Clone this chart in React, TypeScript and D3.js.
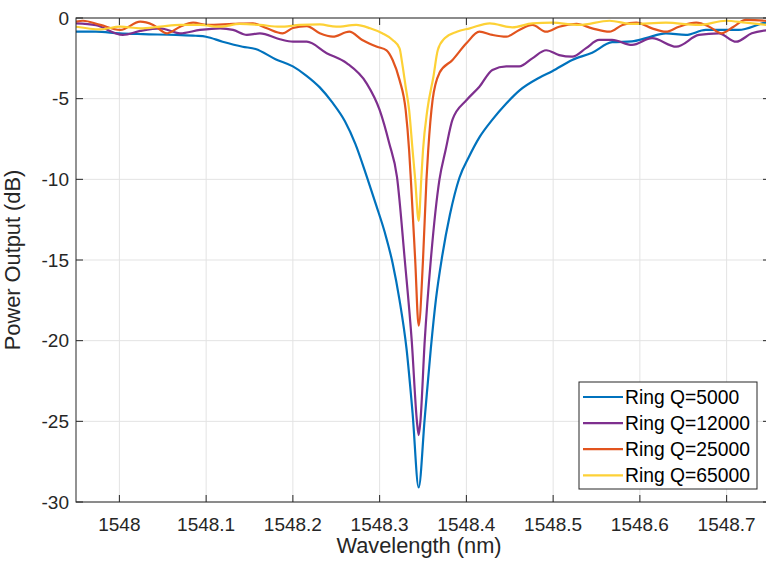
import React from "react";
import * as d3 from "d3";

// [wavelength nm, power dB]
const q5000: [number, number][] = [
  [1547.95, -0.85], [1547.973, -0.85], [1548.0, -0.95], [1548.027, -1.0], [1548.065, -1.05],
  [1548.088, -1.1], [1548.1, -1.16], [1548.119, -1.47], [1548.142, -1.78], [1548.157, -1.92],
  [1548.18, -2.55], [1548.2, -3.0], [1548.215, -3.55], [1548.231, -4.3], [1548.245, -5.2],
  [1548.26, -6.4], [1548.272, -7.8], [1548.285, -9.8], [1548.296, -11.6], [1548.306, -13.3],
  [1548.315, -15.2], [1548.323, -17.5], [1548.331, -20.5], [1548.338, -24.5], [1548.345, -29.1],
  [1548.352, -24.8], [1548.359, -20.5], [1548.365, -17.4], [1548.372, -14.8], [1548.381, -12.2],
  [1548.392, -9.9], [1548.403, -8.6], [1548.415, -7.4], [1548.43, -6.3], [1548.446, -5.3],
  [1548.461, -4.5], [1548.484, -3.7], [1548.499, -3.3], [1548.522, -2.6], [1548.545, -2.15],
  [1548.568, -1.5], [1548.591, -1.45], [1548.607, -1.25], [1548.63, -0.95], [1548.653, -1.05],
  [1548.676, -0.74], [1548.714, -0.74], [1548.744, -0.3], [1548.75, -0.25],
];

const q12000: [number, number][] = [
  [1547.95, -0.33], [1547.973, -0.45], [1548.004, -1.05], [1548.024, -0.8], [1548.047, -0.64],
  [1548.07, -0.95], [1548.093, -0.74], [1548.116, -0.64], [1548.131, -0.74], [1548.147, -1.05],
  [1548.162, -0.95], [1548.185, -1.32], [1548.2, -1.47], [1548.216, -1.47], [1548.239, -2.18],
  [1548.262, -2.8], [1548.285, -4.05], [1548.3, -5.7], [1548.311, -7.75], [1548.32, -9.85],
  [1548.329, -15], [1548.337, -20], [1548.343, -25], [1548.345, -25.85], [1548.347, -25],
  [1548.352, -20], [1548.359, -15], [1548.369, -10], [1548.376, -8.2], [1548.384, -6.3],
  [1548.4, -5.1], [1548.415, -4.26], [1548.43, -3.22], [1548.446, -3.0], [1548.461, -3.0],
  [1548.476, -2.5], [1548.492, -2.0], [1548.507, -2.3], [1548.522, -2.4], [1548.538, -1.87],
  [1548.553, -1.36], [1548.568, -1.36], [1548.591, -1.67], [1548.614, -1.25], [1548.642, -1.78],
  [1548.668, -1.05], [1548.691, -0.95], [1548.711, -1.47], [1548.729, -0.95], [1548.75, -0.74],
];

const q25000: [number, number][] = [
  [1547.95, -0.23], [1547.958, -0.17], [1547.978, -0.43], [1548.001, -0.74], [1548.024, -0.23],
  [1548.039, -0.43], [1548.055, -0.95], [1548.07, -0.54], [1548.085, -0.29], [1548.101, -0.43],
  [1548.131, -0.37], [1548.154, -0.33], [1548.17, -0.64], [1548.188, -0.95], [1548.2, -0.62],
  [1548.216, -0.5], [1548.231, -0.95], [1548.246, -1.16], [1548.265, -0.85], [1548.28, -1.36],
  [1548.297, -1.78], [1548.308, -2.0], [1548.315, -2.6], [1548.323, -3.85], [1548.33, -5.7],
  [1548.334, -8.2], [1548.336, -10], [1548.341, -15], [1548.345, -19.07], [1548.35, -15],
  [1548.354, -10], [1548.356, -8.2], [1548.361, -5.1], [1548.369, -3.4], [1548.384, -2.6],
  [1548.4, -1.57], [1548.415, -0.85], [1548.43, -1.05], [1548.446, -1.16], [1548.461, -0.74],
  [1548.476, -0.43], [1548.492, -0.85], [1548.507, -0.54], [1548.527, -0.37], [1548.545, -0.64],
  [1548.565, -0.85], [1548.58, -0.43], [1548.596, -0.29], [1548.614, -0.64], [1548.63, -0.85],
  [1548.645, -0.54], [1548.665, -0.29], [1548.68, -0.54], [1548.694, -0.95], [1548.708, -0.54],
  [1548.722, -0.12], [1548.744, -0.17], [1548.75, -0.2],
];

const q65000: [number, number][] = [
  [1547.95, -0.54], [1547.978, -0.7], [1548.001, -0.54], [1548.024, -0.64], [1548.047, -0.54],
  [1548.07, -0.43], [1548.093, -0.43], [1548.116, -0.54], [1548.139, -0.37], [1548.162, -0.43],
  [1548.185, -0.54], [1548.208, -0.43], [1548.231, -0.4], [1548.25, -0.54], [1548.273, -0.43],
  [1548.289, -0.64], [1548.303, -0.95], [1548.315, -1.36], [1548.323, -1.88], [1548.326, -2.8],
  [1548.33, -4.26], [1548.334, -5.7], [1548.338, -8.2], [1548.341, -10], [1548.345, -12.57],
  [1548.348, -10], [1548.35, -8.2], [1548.355, -5.7], [1548.362, -3.64], [1548.367, -2.0],
  [1548.375, -1.26], [1548.389, -0.85], [1548.404, -0.64], [1548.427, -0.33], [1548.453, -0.58],
  [1548.476, -0.33], [1548.499, -0.29], [1548.53, -0.43], [1548.565, -0.17], [1548.591, -0.37],
  [1548.63, -0.29], [1548.668, -0.43], [1548.699, -0.17], [1548.722, -0.29], [1548.75, -0.45],
];

const seriesNames = ["Ring Q=5000", "Ring Q=12000", "Ring Q=25000", "Ring Q=65000"];
const seriesData = [q5000, q12000, q25000, q65000];
const colors = ["#0072BD", "#7E2F8E", "#E2541E", "#FDD136"];

const xTicks = [1548, 1548.1, 1548.2, 1548.3, 1548.4, 1548.5, 1548.6, 1548.7];
const yTicks = [0, -5, -10, -15, -20, -25, -30];

const W = 766;
const H = 568;
const left = 76, right = 770, top = 18, bottom = 502;
const font = "'Liberation Sans', Arial, sans-serif";
const ink = "#262626";

export default function App() {
  const x = d3.scaleLinear().domain([1547.95, 1548.75]).range([left, right]);
  const y = d3.scaleLinear().domain([-30, 0]).range([bottom, top]);
  const line = d3
    .line<[number, number]>()
    .x((d) => x(d[0]))
    .y((d) => y(d[1]))
    .curve(d3.curveMonotoneX);

  const legX = 579, legY = 382, legW = 178, legH = 107;

  return (
    <svg width={W} height={H} style={{ position: "absolute", left: 0, top: 0, background: "#fff" }}>
      <defs>
        <clipPath id="plot">
          <rect x={left} y={top - 2} width={right - left} height={bottom - top + 4} />
        </clipPath>
      </defs>

      {/* grid */}
      {xTicks.map((t) => (
        <line key={"gx" + t} x1={x(t)} x2={x(t)} y1={top} y2={bottom} stroke="#e3e3e3" strokeWidth={1} />
      ))}
      {yTicks.map((t) => (
        <line key={"gy" + t} x1={left} x2={right} y1={y(t)} y2={y(t)} stroke="#e3e3e3" strokeWidth={1} />
      ))}

      {/* curves */}
      <g clipPath="url(#plot)">
        {seriesData.map((d, i) => (
          <path key={i} d={line(d) || ""} fill="none" stroke={colors[i]} strokeWidth={2.2} strokeLinejoin="round" />
        ))}
      </g>

      {/* axes box */}
      <rect x={left} y={top} width={right - left} height={bottom - top} fill="none" stroke={ink} strokeWidth={1} />
      {xTicks.map((t) => (
        <g key={"tx" + t}>
          <line x1={x(t)} x2={x(t)} y1={bottom} y2={bottom - 7} stroke={ink} />
          <line x1={x(t)} x2={x(t)} y1={top} y2={top + 7} stroke={ink} />
          <text x={x(t)} y={531} textAnchor="middle" fontFamily={font} fontSize={19} fill={ink}>
            {d3.format("")(t)}
          </text>
        </g>
      ))}
      {yTicks.map((t) => (
        <g key={"ty" + t}>
          <line x1={left} x2={left + 7} y1={y(t)} y2={y(t)} stroke={ink} />
          <line x1={right} x2={right - 7} y1={y(t)} y2={y(t)} stroke={ink} />
          <text x={69} y={y(t)} dy="0.35em" textAnchor="end" fontFamily={font} fontSize={19} fill={ink}>
            {t}
          </text>
        </g>
      ))}

      <text x={419} y={553} textAnchor="middle" fontFamily={font} fontSize={21.8} fill={ink}>
        Wavelength (nm)
      </text>
      <text
        transform={`translate(20,${(top + bottom) / 2}) rotate(-90)`}
        textAnchor="middle"
        fontFamily={font}
        fontSize={21.8}
        fill={ink}
      >
        Power Output (dB)
      </text>

      {/* legend */}
      <rect x={legX} y={legY} width={legW} height={legH} fill="#fff" stroke={ink} strokeWidth={1} />
      {seriesNames.map((name, i) => {
        const ly = 397 + i * 26.1;
        return (
          <g key={name}>
            <line x1={583} x2={623} y1={ly} y2={ly} stroke={colors[i]} strokeWidth={2.2} />
            <text x={625} y={ly} dy="0.36em" fontFamily={font} fontSize={19.3} fill="#000">
              {name}
            </text>
          </g>
        );
      })}
    </svg>
  );
}
